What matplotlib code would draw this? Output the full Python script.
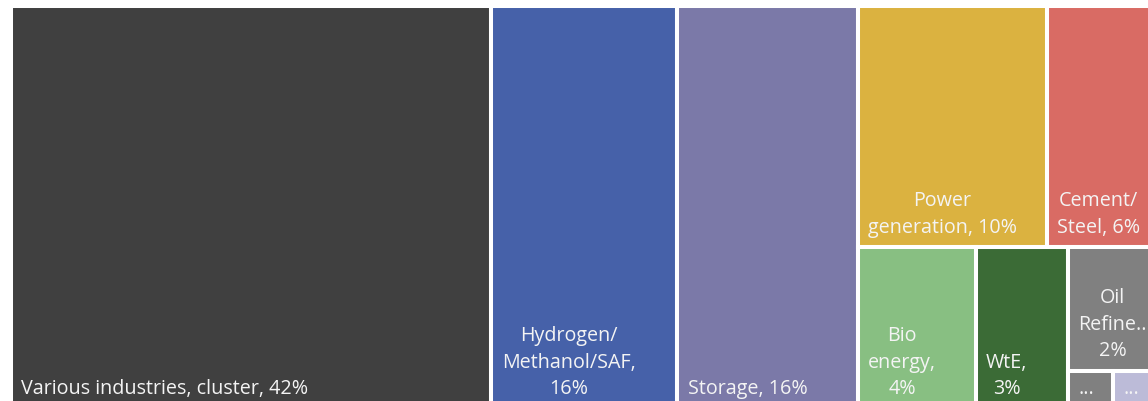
import matplotlib
matplotlib.use("Agg")
from matplotlib import pyplot as plt
from matplotlib.patches import Rectangle

labels = ["Various industries, cluster, 42%",
          "Hydrogen/\nMethanol/SAF,\n16%",
          "Storage, 16%",
          "Power\ngeneration, 10%",
          "Cement/\nSteel, 6%",
          "Bio\nenergy,\n4%",
          "WtE,\n3%",
          "Oil\nRefine..\n2%",
          "...",
          "..."]
values = [41.6, 16.1, 15.6, 9.8, 6.2, 4.1, 3.2, 2.6, 0.37, 0.43]
colors = ["#404040", "#4661A9", "#7B79A8", "#DBB240", "#D96B64",
          "#88BF82", "#3B6B36", "#808080", "#808080", "#BCBBD8"]

# nesting of the treemap (indices into the lists above)
tree = [0, 1, 2, [[3, 4], [5, 6, [7, [8, 9]]]]]


def total(node):
    if isinstance(node, list):
        return sum(total(n) for n in node)
    return values[node]


def layout(node, x, y, w, h, horiz, out):
    if not isinstance(node, list):
        out[node] = (x, y, w, h)
        return
    s = total(node)
    pos = 0.0
    for child in node:
        f = total(child) / s
        if horiz:
            layout(child, x + pos * w, y, w * f, h, not horiz, out)
        else:
            layout(child, x, y + pos * h, w, h * f, not horiz, out)
        pos += f


rects = {}
layout(tree, 0, 0, 1, 1, True, rects)

fig = plt.figure(figsize=(11.48, 4.01), dpi=100)
ax = fig.add_axes([11 / 1148, -8 / 401, 1155 / 1148, 403 / 401])
ax.set_xlim(0, 1)
ax.set_ylim(1, 0)
ax.axis("off")

for i in range(len(values)):
    x, y, w, h = rects[i]
    ax.add_patch(Rectangle((x, y), w, h, facecolor=colors[i],
                           edgecolor="white", linewidth=2.9))
    ax.annotate(labels[i], xy=(x, y + h), xytext=(7.5, 10.5),
                textcoords="offset points", ha="left", va="baseline",
                multialignment="center", color="#F4F4F4",
                fontsize=14.2, family="Open Sans", linespacing=1.45)

plt.savefig("out.png", dpi=100)
